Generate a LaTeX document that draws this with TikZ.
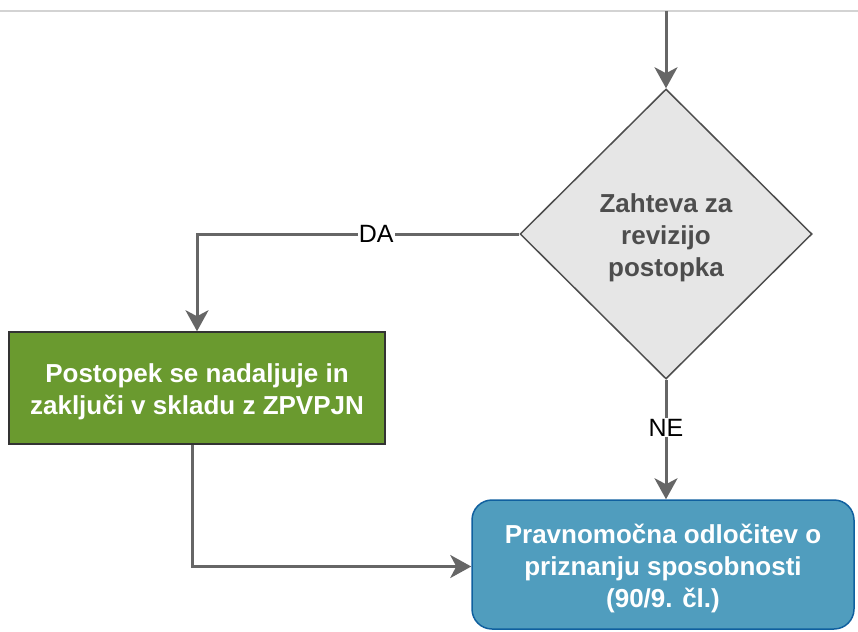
\documentclass[tikz,border=0pt]{standalone}
\usepackage{fontspec}
\setmainfont{Liberation Sans}
\usetikzlibrary{shapes.geometric,arrows.meta}
\definecolor{edgegray}{HTML}{666666}
\definecolor{diafill}{HTML}{E6E6E6}
\definecolor{diatext}{HTML}{4D4D4D}
\definecolor{greenfill}{HTML}{6A9A2F}
\definecolor{bluefill}{HTML}{509DBE}
\definecolor{blueline}{HTML}{10609F}
\definecolor{topline}{HTML}{D3D3D3}
\newcommand{\topstrut}{\rule{0pt}{26.5pt}}
\tikzset{
  arr/.style={draw=edgegray, line width=3pt, -{Stealth[length=21pt,width=23pt,inset=6pt]}},
  boxtext/.style={font=\fontsize{26}{32}\selectfont\bfseries, align=center},
  decision/.style={diamond, aspect=1, draw=diatext, line width=1.5pt, fill=diafill, text=diatext,
    minimum width=292pt, minimum height=290pt, inner sep=0pt, boxtext},
  greenbox/.style={rectangle, draw=black!80, line width=1.5pt, fill=greenfill, text=white,
    minimum width=376pt, minimum height=112pt, inner sep=0pt, boxtext},
  bluebox/.style={rectangle, rounded corners=20pt, draw=blueline, line width=1.5pt, fill=bluefill, text=white,
    minimum width=382pt, minimum height=129pt, inner sep=0pt, boxtext},
  lbl/.style={fill=white, text=black, inner sep=1pt, font=\fontsize{25}{29}\selectfont}
}
\begin{document}
\begin{tikzpicture}[x=1pt,y=-1pt]
\useasboundingbox (0,0) rectangle (858,631);
\draw[topline, line width=2pt] (0,11) -- (858,11);
\coordinate (topin) at (666,11);
\node[decision] (dia) at (666,234) {\topstrut Zahteva za\\revizijo\\postopka};
\node[greenbox] (green) at (197,388) {\topstrut Postopek se nadaljuje in\\zaključi v skladu z ZPVPJN};
\node[bluebox] (blue) at (663,564.5) {\topstrut Pravnomočna odločitev o\\priznanju sposobnosti\\(90/9. čl.)};
\draw[arr] (topin) -- (dia.north);
\draw[arr] (dia.west) -| node[lbl, pos=0.222] {DA} (green.north);
\draw[arr] (dia.south) -- node[lbl, pos=0.4] {NE} (dia.south |- blue.north);
\draw[arr] ([xshift=-5pt]green.south) |- ([yshift=-2pt]blue.west);
\end{tikzpicture}
\end{document}
